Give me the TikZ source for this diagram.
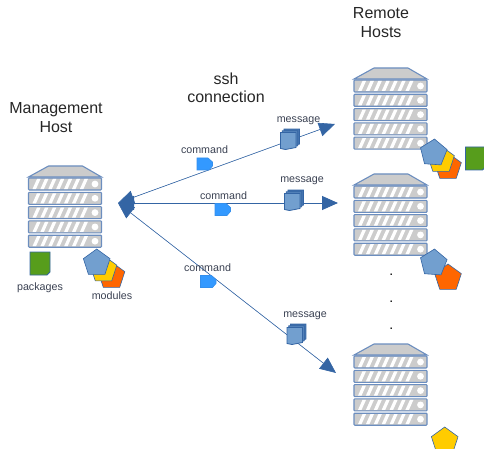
\documentclass[tikz,border=0pt]{standalone}
\usepackage{fontspec}
\setmainfont{Liberation Sans}
\usetikzlibrary{arrows.meta,shapes.geometric}
\definecolor{HostBlue}{HTML}{6C8EBF}
\definecolor{HostGrey}{HTML}{CCCCCC}
\definecolor{LinkBlue}{HTML}{3465A4}
\definecolor{ModBlue}{HTML}{729FCF}
\definecolor{ModYellow}{HTML}{FFCC00}
\definecolor{ModOrange}{HTML}{FF6600}
\definecolor{PkgGreen}{HTML}{579D1C}
\definecolor{CmdBlue}{HTML}{3399FF}
\definecolor{LabelInk}{HTML}{3A4152}

\begin{document}
\begin{tikzpicture}[
  x=1pt, y=-1pt,
  heading/.style={font=\fontsize{16}{18.5}\selectfont, align=center, text=black!85},
  tag/.style={font=\fontsize{10.7}{12}\selectfont, text=LabelInk, inner sep=0pt},
  module/.style={regular polygon, regular polygon sides=5, draw=LinkBlue, semithick,
                 minimum size=28pt, inner sep=0pt},
  link/.style={{Triangle[length=16pt,width=14pt]}-{Triangle[length=16pt,width=14pt]},
               draw=LinkBlue, fill=LinkBlue, line width=0.6pt},
  server/.pic={
    \path[draw=HostBlue, fill=HostGrey, line width=1.1pt]
      (0,-1) -- (20,-12) -- (54,-12) -- (73,-1) -- cycle;
    \foreach \row in {0,1,2,3,4} {
      \begin{scope}[yshift=-14.3pt*\row]
        \path[draw=HostBlue, fill=HostGrey, line width=1.1pt, rounded corners=0.8pt]
          (0,0) rectangle (73,12);
        \foreach \slash in {0,...,6}
          \fill[white] (4+7.9*\slash,11) -- (8.5+7.9*\slash,1) -- (12+7.9*\slash,1)
            -- (7.5+7.9*\slash,11) -- cycle;
        \fill[white] (66.5,6) circle[radius=3.4];
      \end{scope}
    }
  },
  package/.pic={
    \path[draw=LinkBlue, fill=PkgGreen, line width=0.9pt]
      (0,0) -- (20,0) -- (20,20) -- (17,23) -- (0,23) -- cycle;
  },
  command/.pic={
    \path[draw=CmdBlue!80!LinkBlue, fill=CmdBlue, line width=0.6pt]
      (0,0) -- (11,0) -- (15.5,4) -- (15.5,8) -- (12,12) -- (0,12) -- cycle;
  },
  message/.pic={
    \foreach \shift/\tone in {3.4/30,1.7/55,0/100}
      \path[draw=LinkBlue, fill=ModBlue!\tone!LinkBlue, line width=0.8pt]
        (\shift,-\shift) -- (\shift+15.5,-\shift) -- (\shift+15.5,-\shift+15)
        -- (\shift+5,-\shift+17) -- (\shift,-\shift+16) -- cycle;
  }
]
\useasboundingbox (0,0) rectangle (484,449);

% hosts
\pic (mgmt) at (28.5,178) {server};
\pic (remoteA) at (354,80) {server};
\pic (remoteB) at (354,186) {server};
\pic (remoteC) at (354,356) {server};

% connections
\coordinate (hub) at (118,203);
\coordinate (endA) at (335,124);
\coordinate (endB) at (338,203);
\coordinate (endC) at (336,373);
\draw[link] (hub) -- (endA);
\draw[link, line width=0.9pt] (hub) -- (endB);
\draw[link] (hub) -- (endC);

% modules and packages
\pic (pkgM) at (30,252) {package};
\node[module, fill=ModOrange] (orangeM) at (111.5,276) {};
\node[module, fill=ModYellow] (yellowM) at (103.5,269.5) {};
\node[module, fill=ModBlue] (blueM) at (96.7,263) {};

\pic (pkgA) at (465.5,147) {package};
\node[module, fill=ModOrange] (orangeA) at (448,167) {};
\node[module, fill=ModYellow] (yellowA) at (441,160) {};
\node[module, fill=ModBlue, shape border rotate=-4] (blueA) at (433.5,153) {};

\node[module, fill=ModOrange] (orangeB) at (448,278) {};
\node[module, fill=ModBlue, shape border rotate=-4] (blueB) at (433.5,263) {};

\node[module, fill=ModYellow] (yellowC) at (444.7,441) {};

% commands and messages
\pic (cmdA) at (197,158) {command};
\pic (cmdB) at (215,203.5) {command};
\pic (cmdC) at (200.5,275.5) {command};
\pic (msgA) at (280.5,132.5) {message};
\pic (msgB) at (284.5,193.5) {message};
\pic (msgC) at (287,327.5) {message};

% labels
\node[heading] (lblRemote) at (381,22.5) {Remote\\Hosts};
\node[heading] (lblSsh) at (226,88) {ssh\\connection};
\node[heading] (lblMgmt) at (56,117.5) {Management\\Host};
\node[tag] (lblCmdA) at (204.5,149.5) {command};
\node[tag] (lblCmdB) at (223.5,195.5) {command};
\node[tag] (lblCmdC) at (207.5,268) {command};
\node[tag] (lblMsgA) at (298.5,121) {message};
\node[tag] (lblMsgB) at (302,181) {message};
\node[tag] (lblMsgC) at (305,316) {message};
\node[tag] (lblPkg) at (40,288) {packages};
\node[tag] (lblMod) at (112,295.5) {modules};

% elided hosts
\foreach \dotrow [count=\n] in {273.7,300.7,327.7}
  \node[inner sep=0pt, font=\fontsize{14}{14}\selectfont, anchor=base] (gap\n) at (391.3,\dotrow+2) {.};
\end{tikzpicture}
\end{document}
